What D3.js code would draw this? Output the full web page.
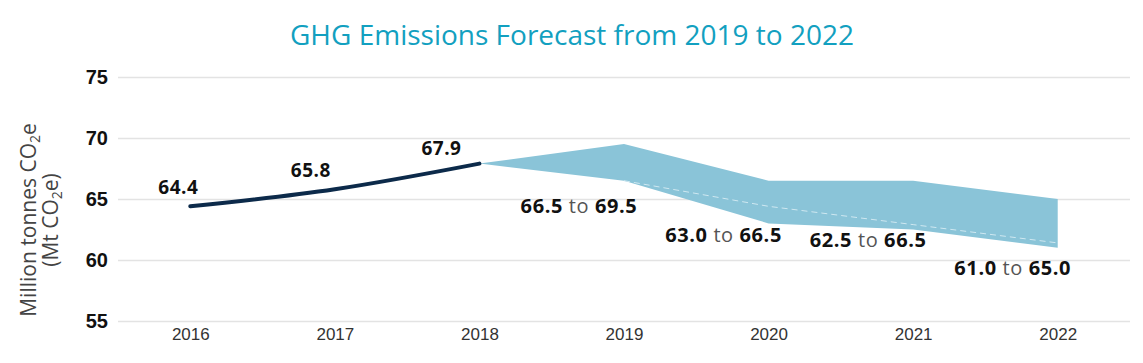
<!DOCTYPE html>
<html>
<head>
<meta charset="utf-8">
<script src="https://cdn.jsdelivr.net/npm/d3@7"></script>
<style>
  body { margin: 0; background: #fff; }
  svg { font-family: "Open Sans", "Noto Sans", sans-serif; }
</style>
</head>
<body>
<div id="chart"></div>
<script>
// data
const years = ["2016", "2017", "2018", "2019", "2020", "2021", "2022"];
const actualYears = ["2016", "2017", "2018"];
const actualValues = [64.4, 65.8, 67.9];
const forecastYears = ["2018", "2019", "2020", "2021", "2022"];
const forecastLow = [67.9, 66.5, 63.0, 62.5, 61.0];
const forecastHigh = [67.9, 69.5, 66.5, 66.5, 65.0];
const forecastMid = [67.9, 66.5, 64.4, 62.9, 61.4];
const yTicks = [55, 60, 65, 70, 75];

// label nudges (layout only)
const actualLabelDx = [-12, -24, -38];
const actualLabelDy = [-12, -12, -9];
const rangeLabelDy = [32, 19, 17, 27];

const width = 1143, height = 363;
const margin = {top: 77, right: 13, bottom: 42, left: 118};

const svg = d3.select("#chart").append("svg")
  .attr("width", width)
  .attr("height", height);

const x = d3.scalePoint()
  .domain(years)
  .range([margin.left, width - margin.right])
  .padding(0.5);

const y = d3.scaleLinear()
  .domain([55, 75])
  .range([height - margin.bottom, margin.top]);

//----------------------------------------
// Title
//----------------------------------------
svg.append("text")
  .attr("x", 572)
  .attr("y", 45)
  .attr("text-anchor", "middle")
  .attr("fill", "#12a0c0")
  .attr("font-size", 28)
  .text("GHG Emissions Forecast from 2019 to 2022");

//----------------------------------------
// Gridlines + y axis
//----------------------------------------
const yAxis = d3.axisLeft(y)
  .tickValues(yTicks)
  .tickSize(-(width - margin.left - margin.right))
  .tickPadding(10);

const gy = svg.append("g")
  .attr("transform", `translate(${margin.left},0)`)
  .call(yAxis);
gy.select(".domain").remove();
gy.selectAll(".tick line").attr("stroke", "#e3e3e3").attr("stroke-width", 1.5);
gy.selectAll(".tick text")
  .attr("font-size", 20)
  .attr("font-weight", "bold")
  .attr("fill", "#111")
  .attr("x", -10);

//----------------------------------------
// x axis
//----------------------------------------
const gx = svg.append("g")
  .attr("transform", `translate(0,${height - margin.bottom})`)
  .call(d3.axisBottom(x).tickSize(0).tickPadding(7));
gx.select(".domain").remove();
gx.selectAll(".tick text")
  .attr("font-size", 17)
  .attr("fill", "#333");

//----------------------------------------
// y axis title
//----------------------------------------
function yTitle(tx, parts) {
  const t = svg.append("text")
    .attr("transform", `translate(${tx},220) rotate(-90)`)
    .attr("text-anchor", "middle")
    .attr("fill", "#444")
    .attr("font-size", 21);
  parts.forEach(p => {
    t.append("tspan")
      .attr("font-size", p.sub ? 14 : null)
      .attr("dy", p.dy)
      .text(p.s);
  });
}
yTitle(36, [{s: "Million tonnes CO", dy: 0}, {s: "2", sub: true, dy: 4}, {s: "e", dy: -4}]);
yTitle(58, [{s: "(Mt CO", dy: 0}, {s: "2", sub: true, dy: 4}, {s: "e)", dy: -4}]);

//----------------------------------------
// Forecast band
//----------------------------------------
const band = forecastYears.map((d, i) => ({year: d, lo: forecastLow[i], hi: forecastHigh[i], mid: forecastMid[i]}));

svg.append("path")
  .datum(band)
  .attr("fill", "#8ac4d8")
  .attr("d", d3.area()
    .x(d => x(d.year))
    .y0(d => y(d.lo))
    .y1(d => y(d.hi)));

svg.append("path")
  .datum(band.slice(1))
  .attr("fill", "none")
  .attr("stroke", "#cfe8f1")
  .attr("stroke-width", 1)
  .attr("stroke-dasharray", "6,4")
  .attr("d", d3.line()
    .x(d => x(d.year))
    .y(d => y(d.mid)));

//----------------------------------------
// Actual line
//----------------------------------------
const actual = actualYears.map((d, i) => ({year: d, v: actualValues[i]}));

svg.append("path")
  .datum(actual)
  .attr("fill", "none")
  .attr("stroke", "#0c2a4a")
  .attr("stroke-width", 4)
  .attr("stroke-linecap", "round")
  .attr("d", d3.line()
    .curve(d3.curveMonotoneX)
    .x(d => x(d.year))
    .y(d => y(d.v)));

svg.selectAll(".actual-label")
  .data(actual)
  .enter()
  .append("text")
  .attr("class", "actual-label")
  .attr("x", (d, i) => x(d.year) + actualLabelDx[i])
  .attr("y", (d, i) => y(d.v) + actualLabelDy[i])
  .attr("text-anchor", "middle")
  .attr("font-size", 19)
  .attr("font-weight", "bold")
  .attr("letter-spacing", 0.5)
  .attr("fill", "#111")
  .text(d => d.v.toFixed(1));

//----------------------------------------
// Range labels
//----------------------------------------
const rl = svg.selectAll(".range-label")
  .data(band.slice(1))
  .enter()
  .append("text")
  .attr("class", "range-label")
  .attr("x", d => x(d.year) - 45)
  .attr("y", (d, i) => y(d.lo) + rangeLabelDy[i])
  .attr("text-anchor", "middle")
  .attr("font-size", 20)
  .attr("letter-spacing", 0.6)
  .attr("fill", "#111");
rl.append("tspan").attr("font-weight", "bold").text(d => d.lo.toFixed(1));
rl.append("tspan").attr("fill", "#555").text(" to ");
rl.append("tspan").attr("font-weight", "bold").text(d => d.hi.toFixed(1));
</script>
</body>
</html>
